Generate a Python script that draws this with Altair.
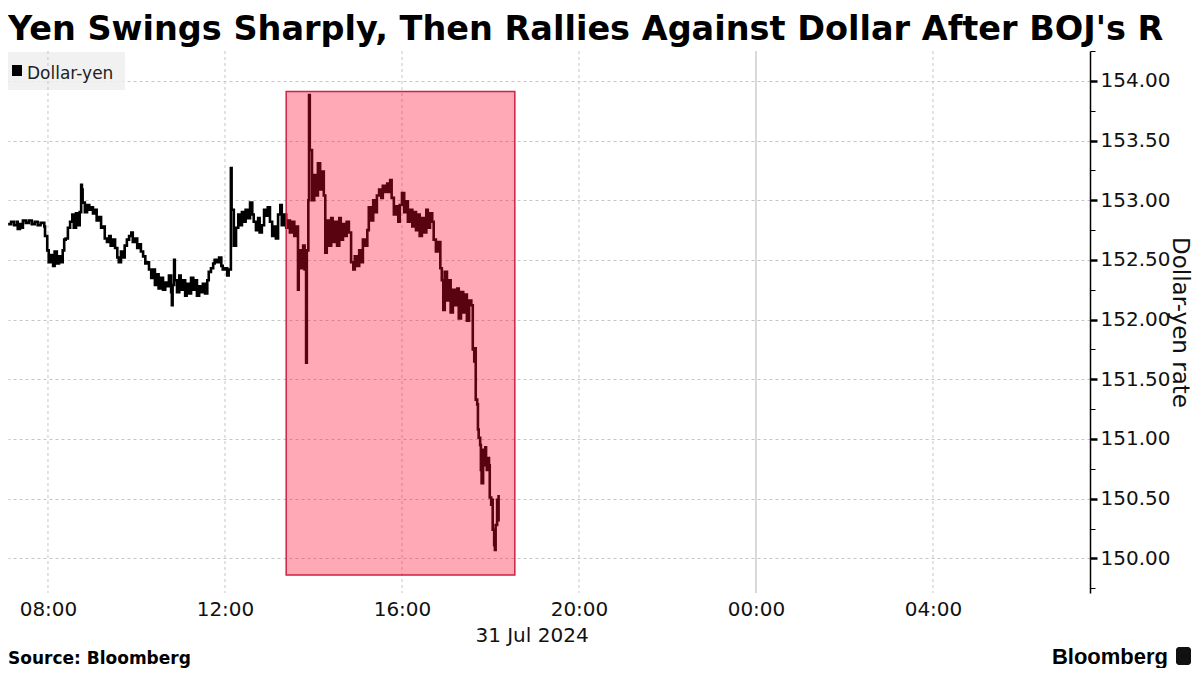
import altair as alt
import pandas as pd

# ---------------- data ----------------
DAY = "2024-07-31"
times = [
    "07:06", "07:10", "07:14", "07:18", "07:19", "07:22", "07:23", "07:26", "07:30", "07:34",
    "07:38", "07:42", "07:46", "07:50", "07:55", "07:56", "07:59", "08:01", "08:04", "08:07",
    "08:09", "08:12", "08:15", "08:18", "08:20", "08:22", "08:24", "08:27", "08:30", "08:33",
    "08:35", "08:38", "08:41", "08:43", "08:45", "08:46", "08:47", "08:50", "08:53", "08:56",
    "08:58", "09:01", "09:04", "09:06", "09:09", "09:12", "09:15", "09:17", "09:20", "09:23",
    "09:25", "09:28", "09:31", "09:34", "09:36", "09:39", "09:42", "09:44", "09:47", "09:50",
    "09:53", "09:55", "09:58", "10:01", "10:03", "10:06", "10:09", "10:12", "10:14", "10:17",
    "10:20", "10:22", "10:25", "10:28", "10:30", "10:33", "10:36", "10:39", "10:41", "10:44",
    "10:47", "10:48", "10:49", "10:51", "10:52", "10:55", "10:58", "11:00", "11:03", "11:06",
    "11:08", "11:11", "11:14", "11:17", "11:19", "11:22", "11:25", "11:27", "11:30", "11:33",
    "11:36", "11:38", "11:41", "11:44", "11:46", "11:49", "11:52", "11:55", "11:57", "12:00",
    "12:03", "12:05", "12:08", "12:09", "12:12", "12:15", "12:18", "12:20", "12:23", "12:26",
    "12:28", "12:31", "12:34", "12:37", "12:39", "12:42", "12:45", "12:47", "12:50", "12:53",
    "12:56", "12:58", "13:01", "13:04", "13:06", "13:09", "13:12", "13:15", "13:17", "13:20",
    "13:23", "13:25", "13:28", "13:31", "13:34", "13:36", "13:39", "13:40", "13:43", "13:46",
    "13:48", "13:50", "13:51", "13:53", "13:54", "13:55", "13:58", "14:01", "14:03", "14:06",
    "14:09", "14:12", "14:14", "14:16", "14:18", "14:21", "14:24", "14:26", "14:29", "14:32",
    "14:35", "14:37", "14:40", "14:43", "14:45", "14:48", "14:51", "14:54", "14:56", "14:59",
    "15:02", "15:04", "15:07", "15:10", "15:13", "15:15", "15:18", "15:21", "15:23", "15:26",
    "15:29", "15:32", "15:34", "15:37", "15:40", "15:42", "15:44", "15:46", "15:49", "15:52",
    "15:55", "15:57", "16:00", "16:03", "16:05", "16:08", "16:11", "16:14", "16:16", "16:19",
    "16:22", "16:24", "16:27", "16:30", "16:33", "16:35", "16:38", "16:41", "16:43", "16:46",
    "16:49", "16:52", "16:54", "16:56", "16:58", "17:01", "17:04", "17:06", "17:09", "17:12",
    "17:15", "17:17", "17:20", "17:23", "17:25", "17:28", "17:31", "17:34", "17:36", "17:38",
    "17:39", "17:40", "17:42", "17:43", "17:44", "17:46", "17:47", "17:48", "17:50", "17:51",
    "17:53", "17:54", "17:55", "17:57", "17:58", "17:59", "18:01", "18:02", "18:03", "18:05",
    "18:06", "18:07", "18:09", "18:10", "18:11",
]
usd_jpy = [
    152.80, 152.82, 152.79, 152.82, 152.76, 152.80, 152.77, 152.83, 152.81, 152.83,
    152.80, 152.82, 152.79, 152.81, 152.78, 152.70, 152.58, 152.48, 152.54, 152.45,
    152.57, 152.47, 152.53, 152.48, 152.58, 152.67, 152.68, 152.77, 152.82, 152.88,
    152.77, 152.89, 152.79, 152.90, 153.13, 153.09, 152.98, 152.90, 152.96, 152.92,
    152.94, 152.89, 152.92, 152.83, 152.86, 152.77, 152.78, 152.68, 152.65, 152.70,
    152.62, 152.67, 152.60, 152.52, 152.48, 152.57, 152.52, 152.62, 152.67, 152.70,
    152.73, 152.65, 152.68, 152.60, 152.63, 152.57, 152.53, 152.47, 152.48, 152.42,
    152.35, 152.42, 152.29, 152.38, 152.26, 152.35, 152.25, 152.31, 152.28, 152.37,
    152.23, 152.12, 152.29, 152.50, 152.33, 152.23, 152.37, 152.25, 152.33, 152.20,
    152.30, 152.22, 152.35, 152.25, 152.33, 152.20, 152.28, 152.23, 152.30, 152.22,
    152.33, 152.40, 152.43, 152.47, 152.50, 152.48, 152.52, 152.45, 152.42, 152.43,
    152.37, 152.42, 153.27, 152.92, 152.62, 152.77, 152.88, 152.79, 152.90, 152.82,
    152.92, 152.85, 152.98, 152.88, 152.82, 152.75, 152.85, 152.73, 152.79, 152.92,
    152.87, 152.94, 152.82, 152.70, 152.78, 152.68, 152.88, 152.96, 152.79, 152.88,
    152.77, 152.83, 152.73, 152.82, 152.70, 152.78, 152.25, 152.58, 152.43, 152.62,
    152.42, 151.64, 152.58, 153.00, 153.88, 153.42, 153.00, 153.21, 153.04, 153.31,
    153.09, 153.24, 153.04, 152.56, 152.83, 152.62, 152.85, 152.65, 152.82, 152.62,
    152.85, 152.67, 152.80, 152.70, 152.82, 152.73, 152.48, 152.42, 152.53, 152.45,
    152.58, 152.48, 152.67, 152.62, 152.75, 152.94, 152.83, 153.00, 152.90, 153.04,
    153.09, 153.02, 153.12, 153.07, 153.14, 153.07, 153.17, 153.02, 152.88, 152.95,
    152.82, 152.96, 153.06, 152.90, 152.99, 152.82, 152.92, 152.78, 152.90, 152.75,
    152.88, 152.70, 152.85, 152.73, 152.92, 152.77, 152.89, 152.82, 152.67, 152.57,
    152.65, 152.43, 152.33, 152.08, 152.40, 152.16, 152.33, 152.06, 152.25, 152.12,
    152.26, 152.01, 152.23, 152.06, 152.21, 151.99, 152.16, 152.12, 151.75, 151.65,
    151.76, 151.33, 151.29, 151.08, 151.01, 150.95, 150.74, 150.63, 150.91, 150.78,
    150.93, 150.83, 150.74, 150.84, 150.78, 150.51, 150.45, 150.49, 150.24, 150.11,
    150.07, 150.28, 150.49, 150.32, 150.53,
]

# x-axis: visible range and tick/grid times
x_range = ["2024-07-31T07:05:48Z", "2024-08-01T07:32:54Z"]
tick_times = ["2024-07-31T08:00:00Z", "2024-07-31T12:00:00Z", "2024-07-31T16:00:00Z",
              "2024-07-31T20:00:00Z", "2024-08-01T00:00:00Z", "2024-08-01T04:00:00Z"]
dashed_grid_times = ["2024-07-31T08:00:00Z", "2024-07-31T12:00:00Z", "2024-07-31T16:00:00Z",
                     "2024-07-31T20:00:00Z", "2024-08-01T04:00:00Z"]
day_break_times = ["2024-08-01T00:00:00Z"]

# y-axis
y_range = [149.71, 154.25]
y_tick_values = [149.75, 150.0, 150.25, 150.5, 150.75, 151.0, 151.25, 151.5, 151.75,
                 152.0, 152.25, 152.5, 152.75, 153.0, 153.25, 153.5, 153.75, 154.0, 154.25]

# highlighted window
highlight_start = ["2024-07-31T13:23:00Z"]
highlight_end = ["2024-07-31T18:33:00Z"]
highlight_low = [149.86]
highlight_high = [153.91]

# texts
title_text = "Yen Swings Sharply, Then Rallies Against Dollar After BOJ's R"
series_name = "Dollar-yen"
y_title = "Dollar-yen rate"
date_label = "31 Jul 2024"
source_text = "Source: Bloomberg"
brand_text = "Bloomberg"

# ---------------- build ----------------
def ms(s):
    return int(pd.Timestamp(s).value // 10**6)

W, H = 1082, 542
FONT = "DejaVu Sans"

df = pd.DataFrame({"time": [f"{DAY}T{t}:00Z" for t in times], "price": usd_jpy})

x_scale = alt.Scale(type="utc", domain=[ms(v) for v in x_range])
y_scale = alt.Scale(domain=y_range, nice=False, zero=False)

minor = "datum.value % 0.5 != 0"
x_axis = alt.Axis(
    values=[ms(v) for v in tick_times],
    format="%H:%M",
    title=None,
    grid=False,
    ticks=False,
    domain=False,
    labelFont=FONT,
    labelFontSize=20,
    labelColor="#111111",
    labelPadding=6,
    labelFlush=False,
    labelOverlap=False,
)
y_axis = alt.Axis(
    orient="right",
    values=y_tick_values,
    labelExpr="datum.value % 0.5 == 0 ? format(datum.value, '.2f') : ''",
    labelFont=FONT,
    labelFontSize=20,
    labelColor="#111111",
    labelPadding=3,
    labelOverlap=False,
    labelFlush=False,
    grid=True,
    gridColor="#c6c6c6",
    gridDash=[3, 3],
    gridOpacity={"condition": {"test": minor, "value": 0}, "value": 1},
    tickColor="#000000",
    tickSize={"condition": {"test": minor, "value": 5}, "value": 7},
    tickWidth={"condition": {"test": minor, "value": 1}, "value": 2.5},
    domainColor="#000000",
    domainWidth=1.5,
    title=y_title,
    titleFont=FONT,
    titleFontSize=23,
    titleFontWeight="normal",
    titleColor="#111111",
    titleAngle=90,
    titleAlign="center",
    titleBaseline="middle",
    titleX=89,
    titleY=H / 2,
)

one = pd.DataFrame({"k": [0]})

legend_box = alt.Chart(one).mark_rect(color="#efefef", opacity=0.85).encode(
    x=alt.value(0), x2=alt.value(117), y=alt.value(1), y2=alt.value(39)
)

grid_dashed = alt.Chart(pd.DataFrame({"time": dashed_grid_times})).mark_rule(
    color="#c6c6c6", strokeDash=[3, 3], strokeWidth=1
).encode(x=alt.X("time:T", scale=x_scale, axis=x_axis))

grid_solid = alt.Chart(pd.DataFrame({"time": day_break_times})).mark_rule(
    color="#b4b4b4", strokeWidth=1
).encode(x=alt.X("time:T", scale=x_scale, axis=x_axis))

line = alt.Chart(df).mark_line(interpolate="step-after", color="#000000", strokeWidth=2.6).encode(
    x=alt.X("time:T", scale=x_scale, axis=x_axis),
    y=alt.Y("price:Q", scale=y_scale, axis=y_axis),
)

hl = alt.Chart(pd.DataFrame({
    "start": highlight_start, "end": highlight_end,
    "low": highlight_low, "high": highlight_high,
})).mark_rect(
    fill="#ff0a30", fillOpacity=0.35, stroke="#cc2244", strokeWidth=1.5
).encode(
    x=alt.X("start:T", scale=x_scale, axis=x_axis),
    x2="end:T",
    y=alt.Y("low:Q", scale=y_scale, axis=y_axis),
    y2="high:Q",
)

legend_square = alt.Chart(one).mark_rect(color="#000000").encode(
    x=alt.value(4), x2=alt.value(14), y=alt.value(14), y2=alt.value(25)
)
legend_text = alt.Chart(one).mark_text(
    text=series_name, font=FONT, fontSize=17, color="#222222", align="left", baseline="alphabetic"
).encode(x=alt.value(19), y=alt.value(28))

title_mark = alt.Chart(one).mark_text(
    text=title_text, font=FONT, fontSize=33.5, fontWeight="bold", color="#000000",
    align="left", baseline="alphabetic"
).encode(x=alt.value(0), y=alt.value(-11))

date_mark = alt.Chart(one).mark_text(
    text=date_label, font=FONT, fontSize=20, color="#111111", align="center", baseline="alphabetic"
).encode(x=alt.value(524), y=alt.value(591))

source_mark = alt.Chart(one).mark_text(
    text=source_text, font=FONT, fontSize=17, fontWeight="bold", color="#000000",
    align="left", baseline="alphabetic"
).encode(x=alt.value(0), y=alt.value(613))

brand_mark = alt.Chart(one).mark_text(
    text=brand_text, font="Liberation Sans", fontSize=22, fontWeight="bold", color="#000000",
    align="right", baseline="alphabetic"
).encode(x=alt.value(1160), y=alt.value(613))

brand_icon = alt.Chart(one).mark_rect(color="#111111", cornerRadius=3).encode(
    x=alt.value(1168), x2=alt.value(1183), y=alt.value(596), y2=alt.value(614)
)

chart = alt.layer(
    legend_box, grid_dashed, grid_solid, line, hl, legend_square, legend_text,
    title_mark, date_mark, source_mark, brand_mark, brand_icon,
).properties(
    width=W,
    height=H,
    padding={"left": 0, "top": 43, "right": 102, "bottom": 75},
    autosize=alt.AutoSizeParams(type="none"),
    background="#ffffff",
).configure_view(strokeWidth=0)

chart.save("out.html", embed_options={"renderer": "svg", "actions": False})
